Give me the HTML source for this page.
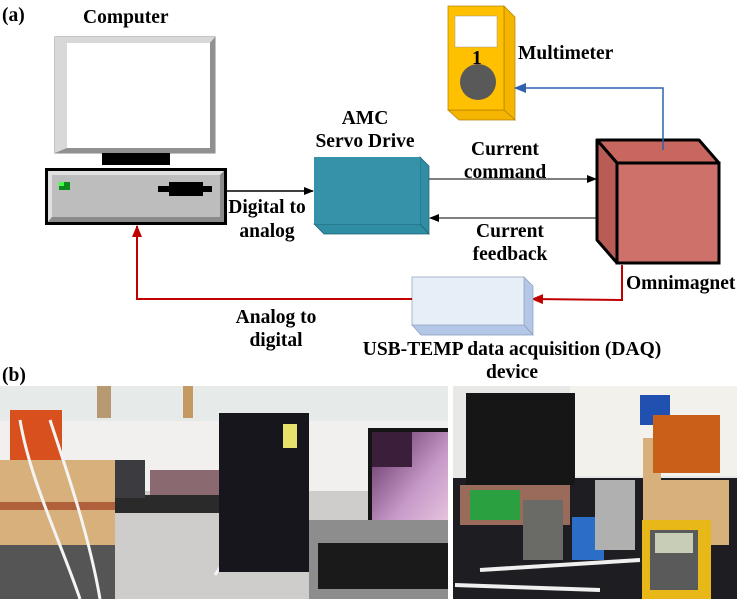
<!DOCTYPE html>
<html><head><meta charset="utf-8"><style>
html,body{margin:0;padding:0;background:#fff;width:737px;height:599px;overflow:hidden}
svg{display:block}
text{font-family:"Liberation Serif",serif;font-weight:bold;font-size:19.5px;fill:#000}
</style></head><body>
<svg width="737" height="599" viewBox="0 0 737 599" xmlns="http://www.w3.org/2000/svg">
<defs>
<marker id="ab" markerWidth="10" markerHeight="8" refX="9" refY="4" orient="auto" markerUnits="userSpaceOnUse"><path d="M0,0 L10,4 L0,8 z" fill="#000"/></marker>
<marker id="ar" markerWidth="12" markerHeight="10" refX="11" refY="5" orient="auto" markerUnits="userSpaceOnUse"><path d="M0,0 L12,5 L0,10 z" fill="#c00000"/></marker>
<marker id="au" markerWidth="12" markerHeight="10" refX="11" refY="5" orient="auto" markerUnits="userSpaceOnUse"><path d="M0,0 L12,5 L0,10 z" fill="#2e62b0"/></marker>
<linearGradient id="scr" x1="0" y1="0" x2="1" y2="1"><stop offset="0" stop-color="#5a2c5c"/><stop offset="0.6" stop-color="#c79ac9"/><stop offset="1" stop-color="#e8c7e0"/></linearGradient>
</defs>
<text x="2" y="21" font-size="21">(a)</text>
<text x="83" y="23">Computer</text>
<!-- monitor -->
<rect x="55" y="37" width="160" height="116" fill="#c0c0c0" stroke="#888"/>
<polygon points="55,37 215,37 210,43 67,43 67,148 55,153" fill="#d8d8d8"/>
<polygon points="215,37 215,153 55,153 67,148 210,148 210,43" fill="#909090"/>
<rect x="67" y="43" width="143" height="105" fill="#fff"/>
<rect x="102" y="153" width="68" height="12" fill="#000"/>
<!-- base -->
<rect x="45" y="168" width="182" height="57" fill="#000"/>
<rect x="48" y="171" width="176" height="51" fill="#bdbdbd"/>
<polygon points="48,171 224,171 220,175 52,175 52,217 48,222" fill="#e0e0e0"/>
<polygon points="224,171 224,222 48,222 52,217 220,217 220,175" fill="#8a8a8a"/>
<rect x="52" y="175" width="168" height="42" fill="#bdbdbd"/>
<rect x="59" y="182" width="11" height="8" fill="#0a8a1a"/><rect x="59" y="182" width="5" height="4" fill="#40ff40"/>
<rect x="158" y="186" width="54" height="6" fill="#000"/>
<rect x="169" y="182" width="34" height="14" fill="#000"/>
<!-- arrows -->
<line x1="227" y1="191" x2="313" y2="191" stroke="#000" stroke-width="1.5" marker-end="url(#ab)"/>
<text x="267" y="213" text-anchor="middle">Digital to</text>
<text x="267" y="237" text-anchor="middle">analog</text>
<!-- servo -->
<text x="365" y="124" text-anchor="middle">AMC</text>
<text x="365" y="147" text-anchor="middle">Servo Drive</text>
<polygon points="420,157 429,166 429,234 420,224" fill="#2f8ea4" stroke="#1d5f70" stroke-width="0.7"/>
<polygon points="314,224 420,224 429,234 324,234" fill="#2f8ea4" stroke="#1d5f70" stroke-width="0.7"/>
<rect x="314" y="157" width="106" height="67" fill="#3592a8"/>
<line x1="429" y1="179" x2="596" y2="179" stroke="#333" stroke-width="1.3" marker-end="url(#ab)"/>
<line x1="596" y1="218" x2="430" y2="218" stroke="#333" stroke-width="1.3" marker-end="url(#ab)"/>
<text x="505" y="155" text-anchor="middle">Current</text>
<text x="505" y="178" text-anchor="middle">command</text>
<text x="510" y="237" text-anchor="middle">Current</text>
<text x="510" y="260" text-anchor="middle">feedback</text>
<!-- multimeter -->
<polygon points="504,6 515,17 515,120 504,110" fill="#f5b400" stroke="#b08000" stroke-width="0.7"/>
<polygon points="448,110 504,110 515,120 459,120" fill="#f5b400" stroke="#b08000" stroke-width="0.7"/>
<rect x="448" y="6" width="56" height="104" fill="#ffc000" stroke="#b08000" stroke-width="0.7"/>
<rect x="455" y="16" width="42" height="31" fill="#fff" stroke="#999" stroke-width="0.5"/>
<circle cx="478" cy="82" r="18" fill="#595959"/>
<text x="472" y="64" font-weight="normal" font-size="20" font-family="Liberation Sans">1</text>
<text x="518" y="59">Multimeter</text>
<!-- omnimagnet -->
<polygon points="597,140 699,140 719,163 617,163" fill="#c8675f" stroke="#000" stroke-width="3" stroke-linejoin="round"/>
<polygon points="597,140 617,163 617,263 597,240" fill="#b85c55" stroke="#000" stroke-width="3" stroke-linejoin="round"/>
<rect x="617" y="163" width="102" height="100" fill="#cd716a" stroke="#000" stroke-width="3"/>
<polyline points="663,150 663,88 515,88" fill="none" stroke="#2e62b0" stroke-width="1.5" marker-end="url(#au)"/>
<text x="626" y="289">Omnimagnet</text>
<!-- DAQ -->
<polyline points="622,265 622,300 532,299" fill="none" stroke="#c00000" stroke-width="2" marker-end="url(#ar)"/>
<polygon points="524,277 533,286 533,335 524,325" fill="#b4c7e7" stroke="#8a9abf" stroke-width="0.7"/>
<polygon points="412,325 524,325 533,335 421,335" fill="#b4c7e7" stroke="#8a9abf" stroke-width="0.7"/>
<rect x="412" y="277" width="112" height="48" fill="#e6eef8" stroke="#9aa8c0" stroke-width="0.8"/>
<polyline points="412,299 137,299 137,226" fill="none" stroke="#c00000" stroke-width="2" marker-end="url(#ar)"/>
<text x="276" y="323" text-anchor="middle">Analog to</text>
<text x="276" y="346" text-anchor="middle">digital</text>
<text x="512" y="355" text-anchor="middle">USB-TEMP data acquisition (DAQ)</text>
<text x="512" y="378" text-anchor="middle">device</text>
<text x="2" y="381" font-size="21">(b)</text>
<!-- left photo -->
<rect x="0" y="386" width="448" height="213" fill="#dcdcd8"/>
<rect x="0" y="386" width="448" height="35" fill="#e6ebea"/>
<rect x="97" y="386" width="14" height="32" fill="#b89a72"/>
<rect x="183" y="386" width="10" height="32" fill="#c49a62"/>
<rect x="0" y="421" width="448" height="70" fill="#f1f0ee"/>
<rect x="0" y="491" width="448" height="108" fill="#cfcdcb"/>
<rect x="110" y="495" width="110" height="18" fill="#2a2a2a"/>
<rect x="90" y="460" width="55" height="38" fill="#3c3c40"/>
<rect x="150" y="470" width="70" height="25" fill="#8a6a70"/>
<rect x="10" y="410" width="52" height="52" fill="#d8501e"/>
<rect x="0" y="460" width="115" height="85" fill="#d8b07c"/>
<rect x="0" y="502" width="115" height="8" fill="#b0603a"/>
<rect x="0" y="545" width="115" height="54" fill="#555"/>
<path d="M20,420 C30,480 60,540 80,599 M50,420 C70,480 90,540 100,599 M230,420 C260,480 240,540 215,575" stroke="#f4f4f4" stroke-width="3" fill="none"/>
<rect x="219" y="413" width="90" height="159" fill="#16161c"/>
<rect x="283" y="424" width="14" height="24" fill="#e6e26a"/>
<rect x="368" y="428" width="80" height="108" fill="#141414"/>
<rect x="372" y="432" width="76" height="95" fill="url(#scr)"/>
<rect x="372" y="432" width="40" height="35" fill="#3a1e3a"/>
<rect x="309" y="520" width="139" height="79" fill="#8d8d8d"/>
<rect x="318" y="543" width="130" height="46" fill="#1a1a1a"/>
<!-- right photo -->
<rect x="453" y="386" width="284" height="213" fill="#e8e8e6"/>
<rect x="570" y="386" width="167" height="90" fill="#f2f1ec"/>
<rect x="640" y="395" width="30" height="30" fill="#2050b0"/>
<rect x="453" y="478" width="284" height="121" fill="#1e1e22"/>
<rect x="466" y="393" width="109" height="92" fill="#161616"/>
<rect x="460" y="485" width="110" height="40" fill="#9a6a5a"/>
<rect x="470" y="490" width="50" height="30" fill="#2aa040"/>
<rect x="523" y="500" width="40" height="60" fill="#6a6a66"/>
<rect x="572" y="517" width="32" height="43" fill="#2a6ec8"/>
<rect x="595" y="480" width="40" height="70" fill="#b0b0b0"/>
<rect x="643" y="438" width="18" height="100" fill="#d8b07c"/>
<rect x="655" y="480" width="74" height="65" fill="#d8b07c"/>
<rect x="653" y="415" width="67" height="58" fill="#c8601a"/>
<path d="M455,585 L600,590 M480,570 L640,560" stroke="#f0f0f0" stroke-width="4"/>
<rect x="642" y="520" width="69" height="79" fill="#e8b818"/>
<rect x="650" y="530" width="48" height="60" fill="#5a5a5a"/>
<rect x="655" y="533" width="38" height="20" fill="#c8cdb8"/>
</svg>
</body></html>
